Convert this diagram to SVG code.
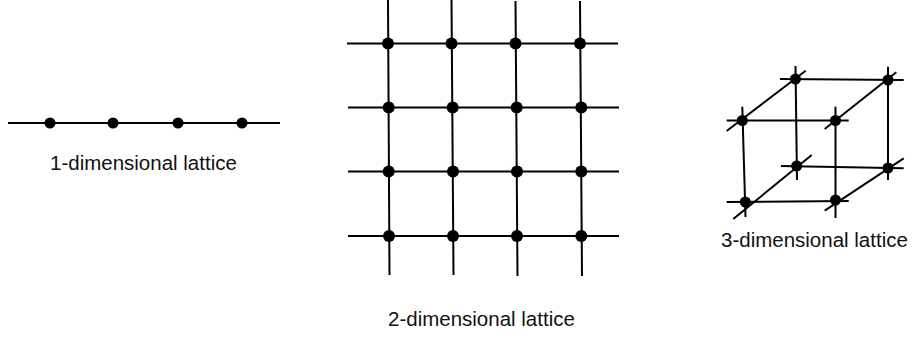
<svg xmlns="http://www.w3.org/2000/svg" width="912" height="339" viewBox="0 0 912 339">
<style>
.ln{stroke:#000;stroke-width:2;fill:none;stroke-linecap:butt}
.dot{fill:#000}
.lbl{font-family:"Liberation Sans",Arial,Helvetica,sans-serif;font-size:20.5px;fill:#111}
</style>
<rect width="912" height="339" fill="#fff"/>
<g id="lattice-1d">
  <line class="ln" x1="8" y1="123" x2="280" y2="123"/>
  <circle class="dot" cx="50" cy="123" r="5.5"/>
  <circle class="dot" cx="113" cy="123" r="5.5"/>
  <circle class="dot" cx="178" cy="123" r="5.5"/>
  <circle class="dot" cx="242" cy="123" r="5.5"/>
  <text class="lbl" x="50" y="170">1-dimensional lattice</text>
</g>
<g id="lattice-2d">
  <g id="grid-connectors">
    <line class="ln" x1="347" y1="43.5" x2="618" y2="43.5"/>
    <line class="ln" x1="348" y1="107.5" x2="619" y2="107.5"/>
    <line class="ln" x1="348" y1="171.5" x2="619" y2="171.5"/>
    <line class="ln" x1="348" y1="236" x2="619" y2="236"/>
    <line class="ln" x1="388" y1="0" x2="389.5" y2="275"/>
    <line class="ln" x1="451.5" y1="0" x2="453.5" y2="275"/>
    <line class="ln" x1="515.5" y1="1" x2="517.5" y2="276"/>
    <line class="ln" x1="580" y1="1" x2="582" y2="276"/>
  </g>
  <circle class="dot" cx="388" cy="43.5" r="6"/>
  <circle class="dot" cx="451.5" cy="43.5" r="6"/>
  <circle class="dot" cx="515.5" cy="43.5" r="6"/>
  <circle class="dot" cx="580" cy="43.5" r="6"/>
  <circle class="dot" cx="388.7" cy="107.5" r="6"/>
  <circle class="dot" cx="452.7" cy="107.5" r="6"/>
  <circle class="dot" cx="516.7" cy="107.5" r="6"/>
  <circle class="dot" cx="581.3" cy="107.5" r="6"/>
  <circle class="dot" cx="388.7" cy="171.5" r="6"/>
  <circle class="dot" cx="453" cy="171.5" r="6"/>
  <circle class="dot" cx="517" cy="171.5" r="6"/>
  <circle class="dot" cx="581.3" cy="171.5" r="6"/>
  <circle class="dot" cx="389" cy="236" r="6"/>
  <circle class="dot" cx="453" cy="236" r="6"/>
  <circle class="dot" cx="517" cy="236" r="6"/>
  <circle class="dot" cx="581.3" cy="236" r="6"/>
  <text class="lbl" x="388" y="326">2-dimensional lattice</text>
</g>
<g id="lattice-3d">
  <g id="cube-connectors">
    <!-- back face -->
    <line class="ln" x1="780" y1="79" x2="903.7" y2="80"/>
    <line class="ln" x1="781" y1="166" x2="903.7" y2="168.3"/>
    <line class="ln" x1="795.5" y1="66" x2="797" y2="180"/>
    <line class="ln" x1="888" y1="66.7" x2="888" y2="180"/>
    <!-- front face -->
    <line class="ln" x1="726.7" y1="120.5" x2="848.7" y2="120.5"/>
    <line class="ln" x1="726.7" y1="202" x2="848.7" y2="201"/>
    <line class="ln" x1="742.3" y1="106.7" x2="745.5" y2="217"/>
    <line class="ln" x1="835.5" y1="106.7" x2="835.5" y2="218"/>
    <!-- depth edges -->
    <line class="ln" x1="726.7" y1="131" x2="805.7" y2="70.7"/>
    <line class="ln" x1="824.7" y1="129" x2="896.3" y2="72.3"/>
    <line class="ln" x1="733.3" y1="219" x2="811.7" y2="155"/>
    <line class="ln" x1="824.7" y1="210.7" x2="903.7" y2="158.3"/>
  </g>
  <circle class="dot" cx="795.5" cy="79" r="5.5"/>
  <circle class="dot" cx="888" cy="80" r="5.5"/>
  <circle class="dot" cx="742.3" cy="120.5" r="5.5"/>
  <circle class="dot" cx="835.5" cy="120.5" r="5.5"/>
  <circle class="dot" cx="796.7" cy="166" r="5.5"/>
  <circle class="dot" cx="888" cy="168" r="5.5"/>
  <circle class="dot" cx="745.3" cy="202" r="5.5"/>
  <circle class="dot" cx="835.5" cy="200" r="5.5"/>
  <text class="lbl" x="721" y="247">3-dimensional lattice</text>
</g>
</svg>
